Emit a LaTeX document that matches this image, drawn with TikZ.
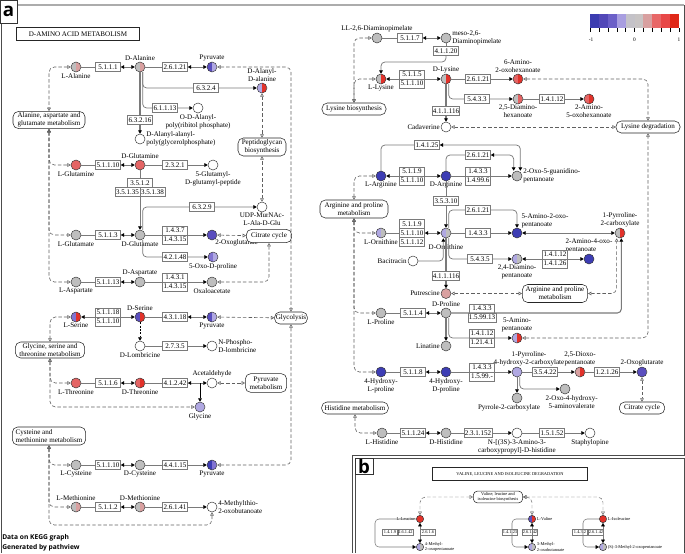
\documentclass[tikz,border=0pt]{standalone}
\usepackage{fontspec}
\setmainfont{Liberation Serif}
\newfontfamily\panelsans{Open Sans}
\usetikzlibrary{arrows.meta}

\definecolor{kgrey}{HTML}{BEBEBE}
\definecolor{kpink}{HTML}{D9A0A0}
\definecolor{kred2}{HTML}{E46464}
\definecolor{kred}{HTML}{E2322A}
\definecolor{kblue}{HTML}{3D3DB4}
\definecolor{kblue2}{HTML}{5A4EBE}
\definecolor{kpurple}{HTML}{8274D2}
\definecolor{klav}{HTML}{B0A8E2}
\definecolor{kline}{HTML}{7A7A7A}
% legend scale
\definecolor{lg0}{HTML}{3C3CB0}
\definecolor{lg1}{HTML}{5248B8}
\definecolor{lg2}{HTML}{6C60C8}
\definecolor{lg3}{HTML}{A89EE0}
\definecolor{lg4}{HTML}{C4C2C8}
\definecolor{lg5}{HTML}{C8C4C4}
\definecolor{lg6}{HTML}{D8A0A0}
\definecolor{lg7}{HTML}{E86868}
\definecolor{lg8}{HTML}{E84848}
\definecolor{lg9}{HTML}{E02818}

\newcommand{\kfont}{\fontsize{5.3}{6}\selectfont}
\newcommand{\kbfont}{\fontsize{3.3}{3.8}\selectfont}

\tikzset{
  cpd/.style 2 args={circle,draw=black!80,line width=0.35pt,minimum size=7.5pt,inner sep=0pt,
    path picture={\fill[#1] (path picture bounding box.south west) rectangle (path picture bounding box.north);
                  \fill[#2] (path picture bounding box.north) rectangle (path picture bounding box.south east);}},
  cpdb/.style 2 args={cpd={#1}{#2},minimum size=5.5pt},
  ecbox/.style={draw=kline,fill=white,minimum width=18.75pt,minimum height=6.75pt,inner sep=0.4pt,font=\kfont},
  ecboxb/.style={draw=kline,fill=white,minimum width=11.5pt,minimum height=4.6pt,inner sep=0.3pt,font=\kbfont},
  mapbox/.style={draw=black!85,fill=white,rounded corners=4pt,align=center,inner sep=1pt,font=\kfont},
  rxn/.style={draw=kline,line width=0.55pt,rounded corners=3pt},
  rxnfwd/.style={rxn,-{Triangle[length=2.6pt,width=2.8pt,color=black]}},
  rxnrev/.style={rxn,{Triangle[length=2.6pt,width=2.8pt,color=black]}-{Triangle[length=2.6pt,width=2.8pt,color=black]}},
  maplink/.style={draw=gray!75!black,line width=0.45pt,dash pattern=on 2.6pt off 1.6pt,rounded corners=4pt,
    {Triangle[open,length=2.6pt,width=2.8pt]}-{Triangle[open,length=2.6pt,width=2.8pt]}},
  every label/.style={font=\kfont,inner sep=0.3pt,align=center},
  panellbl/.style={draw=black!80,line width=0.6pt,fill=white,font=\panelsans\bfseries\fontsize{14}{14}\selectfont,inner sep=0pt}
}

\begin{document}
\begin{tikzpicture}[x=0.75pt,y=-0.75pt,label distance=0.3pt]
\useasboundingbox (0,0) rectangle (685,553);

% frames
\draw[gray!65,line width=1.3pt] (17,5) -- (684,5);
\draw[gray!60!black,line width=0.6pt] (684,5) -- (684,455) -- (352,455) -- (352,553);
\draw[gray!60!black,line width=0.6pt] (1,23) -- (1,553);
\node[panellbl,minimum width=12.75pt,minimum height=17.25pt] (pa) at (8.5,11.5) {a};
\node[font=\panelsans\bfseries\fontsize{5}{7.5}\selectfont,align=left,anchor=south west,inner sep=0pt] (credit) at (2,551) {Data on KEGG graph\\Generated by pathview};

% legend
\foreach \i in {0,...,9}
  \fill[lg\i] (590+\i*8.9,14) rectangle ++(8.9,14);
\foreach \i in {0,...,10}
  \draw[black,line width=0.3pt] (590+\i*8.9,28) -- ++(0,4);
\node[font=\fontsize{4}{4}\selectfont] (legm) at (591,40) {-1};
\node[font=\fontsize{4}{4}\selectfont] (legz) at (634.5,40) {0};
\node[font=\fontsize{4}{4}\selectfont] (legp) at (679,40) {1};

\node[draw=black!85,line width=0.6pt,font=\kfont,minimum width=92pt,minimum height=9pt] (title) at (78,34) {D-AMINO ACID METABOLISM};

% ---- left half: compounds
\node[cpd={kgrey}{kpink},label=below:L-Alanine] (lala) at (76,67) {};
\node[cpd={kgrey}{kpink},label=above:D-Alanine] (dala) at (140,67) {};
\node[cpd={kblue2}{klav},label=above:Pyruvate] (pyra) at (212,67) {};
\node[cpd={klav}{kred},label={above:{D-Alanyl-\\D-alanine}}] (daladala) at (262,88) {};
\node[cpd={white}{white},label={below:{O-D-Alanyl-\\poly(ribitol phosphate)}}] (odala) at (198,108) {};
\node[cpd={white}{white},label={[align=left]right:{D-Alanyl-alanyl-\\poly(glycerolphosphate)}}] (dalapoly) at (140,139) {};
\node[cpd={kred2}{kred2},label=below:L-Glutamine] (lgln) at (76,165) {};
\node[cpd={kred2}{kred2},label=above:D-Glutamine] (dgln) at (140,165) {};
\node[cpd={white}{white},label={below:{5-Glutamyl-\\D-glutamyl-peptide}}] (ggpep) at (213,165) {};
\node[cpd={white}{white},label={below:{UDP-MurNAc-\\L-Ala-D-Glu}}] (udp) at (262,207) {};
\node[cpd={kgrey}{kgrey},label=below:L-Glutamate] (lglu) at (76,235) {};
\node[cpd={kgrey}{kgrey},label=below:D-Glutamate] (dglu) at (140,235) {};
\node[cpd={kblue2}{kblue2},label={[xshift=-1pt]below right:2-Oxoglutarate}] (akga) at (212,235) {};
\node[cpd={kpurple}{klav},label=below:5-Oxo-D-proline] (oxopro) at (213,257) {};
\node[cpd={kgrey}{kgrey},label=below:L-Aspartate] (lasp) at (76,282) {};
\node[cpd={kgrey}{kgrey},label=above:D-Aspartate] (dasp) at (140,282) {};
\node[cpd={kgrey}{kgrey},label=below:Oxaloacetate] (oaa) at (212,282) {};
\node[cpd={kpurple}{kred},label=below:L-Serine] (lser) at (76,317) {};
\node[cpd={kblue2}{kred},label=above:D-Serine] (dser) at (140,317) {};
\node[cpd={kblue2}{klav},label=below:Pyruvate] (pyrb) at (212,317) {};
\node[cpd={white}{white},label=below:D-Lombricine] (dlomb) at (140,346) {};
\node[cpd={white}{white},label={[align=left]right:{N-Phospho-\\D-lombricine}}] (npdl) at (212,346) {};
\node[cpd={kred2}{kred2},label=below:L-Threonine] (lthr) at (76,383) {};
\node[cpd={kred2}{kred},label=below:D-Threonine] (dthr) at (140,383) {};
\node[cpd={white}{white},label=above:Acetaldehyde] (acald) at (212,383) {};
\node[cpd={klav}{klav},label=below:Glycine] (gly) at (200,407) {};
\node[cpd={kgrey}{kgrey},label=below:L-Cysteine] (lcys) at (76,465) {};
\node[cpd={kgrey}{kgrey},label=below:D-Cysteine] (dcys) at (140,465) {};
\node[cpd={kblue}{kpurple},label=below:Pyruvate] (pyrc) at (212,465) {};
\node[cpd={kgrey}{kpink},label=above:L-Methionine] (lmet) at (76,507) {};
\node[cpd={kgrey}{kpink},label=above:D-Methionine] (dmet) at (140,507) {};
\node[cpd={white}{white},label={[align=left]right:{4-Methylthio-\\2-oxobutanoate}}] (mtob) at (212,507) {};

% ---- left half: enzymes
\node[ecbox] (ec5111) at (108,67) {5.1.1.1};
\node[ecbox] (ec26121a) at (175,67) {2.6.1.21};
\node[ecbox] (ec6324) at (206,88) {6.3.2.4};
\node[ecbox] (ec61113) at (165,108) {6.1.1.13};
\node[ecbox] (ec63216) at (140,120) {6.3.2.16};
\node[ecbox] (ec51110a) at (108,165) {5.1.1.10};
\node[ecbox] (ec2321) at (175,165) {2.3.2.1};
\node[ecbox] (ec3512) at (140,183) {3.5.1.2};
\node[ecbox] (ec35135) at (127.5,192) {3.5.1.35};
\node[ecbox] (ec35138) at (152.5,192) {3.5.1.38};
\node[ecbox] (ec5113) at (108,235) {5.1.1.3};
\node[ecbox] (ec6329) at (202,207) {6.3.2.9};
\node[ecbox] (ec1437) at (175,230.5) {1.4.3.7};
\node[ecbox] (ec14315a) at (175,239.5) {1.4.3.15};
\node[ecbox] (ec42148) at (175,257) {4.2.1.48};
\node[ecbox] (ec51113) at (108,282) {5.1.1.13};
\node[ecbox] (ec1431) at (175,277.5) {1.4.3.1};
\node[ecbox] (ec14315b) at (175,286.5) {1.4.3.15};
\node[ecbox] (ec51118) at (108,312.5) {5.1.1.18};
\node[ecbox] (ec51110b) at (108,321.5) {5.1.1.10};
\node[ecbox] (ec43118) at (175,317) {4.3.1.18};
\node[ecbox] (ec2735) at (175,346) {2.7.3.5};
\node[ecbox] (ec5116) at (108,383) {5.1.1.6};
\node[ecbox] (ec41242) at (175,383) {4.1.2.42};
\node[ecbox] (ec51110c) at (108,465) {5.1.1.10};
\node[ecbox] (ec44115) at (175,465) {4.4.1.15};
\node[ecbox] (ec5112) at (108,507) {5.1.1.2};
\node[ecbox] (ec26141) at (175,507) {2.6.1.41};
\coordinate (glybr) at (200,383);
\coordinate (mtobdn) at (212,525);

% ---- left half: maps
\node[mapbox,minimum width=54pt,minimum height=11pt] (alamap) at (49,120) {Alanine, aspartate and\\glutamate metabolism};
\node[mapbox,minimum width=36pt,minimum height=13.5pt] (pgmap) at (262,147) {Peptidoglycan\\biosynthesis};
\node[mapbox,minimum width=34pt,minimum height=10pt] (tcamapa) at (269,236) {Citrate cycle};
\node[mapbox,minimum width=24pt,minimum height=9pt] (glymap) at (291,318) {Glycolysis};
\node[mapbox,minimum width=52pt,minimum height=12pt] (gstmap) at (50,350) {Glycine, serine and\\threonine metabolism};
\node[mapbox,minimum width=31pt,minimum height=14pt] (pyrmap) at (266,383) {Pyruvate\\metabolism};
\node[mapbox,align=left,minimum width=55pt,minimum height=13.5pt] (cysmap) at (49,436) {Cysteine and\\methionine metabolism};

% ---- left half: reactions
\draw[rxnrev] (lala) -- (ec5111) -- (dala);
\draw[rxnrev] (dala) -- (ec26121a) -- (pyra);
\draw[rxnfwd] ([xshift=2pt]dala.south) |- (ec6324) -- (daladala);
\draw[rxnfwd] ([xshift=2pt]dala.south) |- (ec61113) -- (odala);
\draw[rxnfwd,line width=1.1pt] (dala) -- (ec63216) -- (dalapoly);
\draw[rxnrev] (lgln) -- (ec51110a) -- (dgln);
\draw[rxnfwd] (dgln) -- (ec2321) -- (ggpep);
\draw[rxnfwd] (dgln) -- (ec3512) -- (dglu);
\draw[rxnrev] (lglu) -- (ec5113) -- (dglu);
\draw[rxnfwd] ([xshift=2pt]dglu.north) |- (ec6329) -- (udp);
\draw[rxnfwd] (dglu) -- (akga);
\draw[rxnfwd] ([xshift=2pt]dglu.south) |- (ec42148) -- (oxopro);
\draw[rxnrev] (lasp) -- (ec51113) -- (dasp);
\draw[rxnfwd] (dasp) -- (oaa);
\draw[rxnrev] (lser) -- (dser);
\draw[rxnrev] (dser) -- (ec43118) -- (pyrb);
\draw[rxnfwd,draw=black,dash pattern=on 1.5pt off 1pt] (dser) -- (dlomb);
\draw[rxnfwd] (dlomb) -- (ec2735) -- (npdl);
\draw[rxnrev] (lthr) -- (ec5116) -- (dthr);
\draw[rxnrev] (dthr) -- (ec41242) -- (acald);
\draw[rxnfwd,draw=black] (glybr) -- (gly);
\draw[rxnrev] (lcys) -- (ec51110c) -- (dcys);
\draw[rxnfwd] (dcys) -- (ec44115) -- (pyrc);
\draw[rxnrev] (lmet) -- (ec5112) -- (dmet);
\draw[rxnfwd] (dmet) -- (ec26141) -- (mtob);

% ---- left half: map links
\draw[maplink] (lala) -| (alamap);
\draw[maplink] (alamap) |- (lgln);
\draw[maplink] (alamap) |- (lglu);
\draw[maplink] (alamap) |- (lasp);
\draw[maplink] (daladala) -- (pgmap);
\draw[maplink] (udp) -- (pgmap);
\draw[maplink] (pyra) -| (glymap);
\draw[maplink] (pyrb) -- (glymap);
\draw[maplink] (pyrc) -| (glymap);
\draw[maplink] (akga) -- (tcamapa);
\draw[maplink] (oaa) -| (tcamapa);
\draw[maplink] (lser) -| (gstmap);
\draw[maplink] (gstmap) |- (lthr);
\draw[maplink] (gstmap) |- (gly);
\draw[maplink] (acald) -- (pyrmap);
\draw[maplink] (cysmap) |- (lcys);
\draw[maplink] (cysmap) |- (lmet);
\draw[maplink] (mtob) -- (mtobdn) -| (cysmap);

% ---- right half: compounds
\node[cpd={kgrey}{kgrey},label=above:LL-2{,}6-Diaminopimelate] (lldap) at (377,38) {};
\node[cpd={kgrey}{kgrey},label={[align=left]right:{meso-2,6-\\Diaminopimelate}}] (mdap) at (446,38) {};
\node[cpd={kgrey}{kred},label=below:L-Lysine] (llys) at (381,79) {};
\node[cpd={kgrey}{kred},label=above:D-Lysine] (dlys) at (446,79) {};
\node[cpd={kred2}{kred},label={above:{6-Amino-\\2-oxohexanoate}}] (amox) at (518,79) {};
\node[cpd={kgrey}{kred2},label={below:{2,5-Diamino-\\hexanoate}}] (damhex) at (518,99) {};
\node[cpd={kred2}{kred},label={below:{2-Amino-\\5-oxohexanoate}}] (amoxhex) at (589,99) {};
\node[cpd={white}{white},label=left:Cadaverine] (cadav) at (446,127) {};
\node[cpd={kblue}{kblue},label=below:L-Arginine] (larg) at (381,176) {};
\node[cpd={kblue}{kblue},label=below:D-Arginine] (darg) at (446,176) {};
\node[cpd={kgrey}{kgrey},label={[align=left]right:{2-Oxo-5-guanidino-\\pentanoate}}] (oxoguan) at (517,176) {};
\node[cpd={klav}{kgrey},label=below:L-Ornithine] (lorn) at (381,233) {};
\node[cpd={klav}{kgrey},label={[label distance=4pt]below:D-Ornithine}] (dorn) at (446,233) {};
\node[cpd={kblue}{kblue},label={[align=left]above right:{5-Amino-2-oxo-\\pentanoate}}] (aoxpent) at (517,233) {};
\node[cpd={kgrey}{kred},label={above:{1-Pyrroline-\\2-carboxylate}}] (p2c) at (620,233) {};
\node[cpd={klav}{kgrey},label={below:{2,4-Diamino-\\pentanoate}}] (dapent) at (517,259) {};
\node[cpd={kblue}{kblue},label={[align=left]above:{2-Amino-4-oxo-\\pentanoate}}] (aopent) at (589,259) {};
\node[cpd={white}{white},label=left:Bacitracin] (bacit) at (413,261) {};
\node[cpd={kpink}{kpink},label=left:Putrescine] (putr) at (446,293.5) {};
\node[cpd={kgrey}{kgrey},label=below:L-Proline] (lpro) at (381,313) {};
\node[cpd={kgrey}{kgrey},label=above:D-Proline] (dpro) at (446,313) {};
\node[cpd={kgrey}{kgrey},label=left:Linatine] (linat) at (446,346) {};
\node[cpd={klav}{kred},label={above:{5-Amino-\\pentanoate}}] (apent) at (517,338) {};
\node[cpd={kblue}{kblue},label={below:{4-Hydroxy-\\L-proline}}] (hypl) at (381,372) {};
\node[cpd={kblue}{kblue},label={below:{4-Hydroxy-\\D-proline}}] (hypd) at (446,372) {};
\node[cpd={klav}{klav},label={[xshift=9pt]above:{1-Pyrroline-\\4-hydroxy-2-carboxylate}}] (p4hc) at (517,372) {};
\node[cpd={kpink}{kred},label={above:{2,5-Dioxo-\\pentanoate}}] (dioxo) at (580,372) {};
\node[cpd={kblue2}{kblue2},label=above:2-Oxoglutarate] (akgb) at (642,372) {};
\node[cpd={kgrey}{kgrey},label={[xshift=-6pt]below:Pyrrole-2-carboxylate}] (pyr2c) at (517,398) {};
\node[cpd={kgrey}{kgrey},label={[xshift=5pt]below:{2-Oxo-4-hydroxy-\\5-aminovalerate}}] (ohav) at (565,389) {};
\node[cpd={kgrey}{kgrey},label=below:L-Histidine] (lhis) at (382,433) {};
\node[cpd={kgrey}{kgrey},label=below:D-Histidine] (dhis) at (446,433) {};
\node[cpd={white}{white},label={below:{N-[(3S)-3-Amino-3-\\carboxypropyl]-D-histidine}}] (nahis) at (517,433) {};
\node[cpd={white}{white},label=below:Staphylopine] (staph) at (590,433) {};

% ---- right half: enzymes
\node[ecbox] (ec5117) at (410,38) {5.1.1.7};
\node[ecbox] (ec41120) at (446,51) {4.1.1.20};
\node[ecbox] (ec5115) at (412,74.5) {5.1.1.5};
\node[ecbox] (ec51110d) at (412,83.5) {5.1.1.10};
\node[ecbox] (ec26121b) at (478,79) {2.6.1.21};
\node[ecbox] (ec5433) at (477,99) {5.4.3.3};
\node[ecbox] (ec14112a) at (552,99) {1.4.1.12};
\node[ecbox] (ec411116a) at (446,111) {4.1.1.116};
\node[ecbox] (ec14125) at (427,145) {1.4.1.25};
\node[ecbox] (ec5119a) at (412,171.5) {5.1.1.9};
\node[ecbox] (ec51110e) at (412,180.5) {5.1.1.10};
\node[ecbox] (ec26121c) at (478,155) {2.6.1.21};
\node[ecbox] (ec1433a) at (478,171.5) {1.4.3.3};
\node[ecbox] (ec14996) at (478,180.5) {1.4.99.6};
\node[ecbox] (ec35310) at (446,201) {3.5.3.10};
\node[ecbox] (ec5119b) at (412,224) {5.1.1.9};
\node[ecbox] (ec51110f) at (412,233) {5.1.1.10};
\node[ecbox] (ec51112) at (412,242) {5.1.1.12};
\node[ecbox] (ec26121d) at (478,210) {2.6.1.21};
\node[ecbox] (ec1433b) at (478,233) {1.4.3.3};
\node[ecbox] (ec5435) at (480,259) {5.4.3.5};
\node[ecbox] (ec14112b) at (555,254.5) {1.4.1.12};
\node[ecbox] (ec14126) at (555,263.5) {1.4.1.26};
\node[ecbox] (ec411116b) at (446,276) {4.1.1.116};
\node[ecbox] (ec5114) at (413,313) {5.1.1.4};
\node[ecbox] (ec1433c) at (482,308.5) {1.4.3.3};
\node[ecbox] (ec159913) at (482,317.5) {1.5.99.13};
\node[ecbox] (ec14112c) at (482,333.5) {1.4.1.12};
\node[ecbox] (ec12141) at (482,342.5) {1.21.4.1};
\node[ecbox] (ec5118) at (413,372) {5.1.1.8};
\node[ecbox] (ec1433d) at (482,367.5) {1.4.3.3};
\node[ecbox] (ec1599x) at (482,376.5) {1.5.99.-};
\node[ecbox] (ec35422) at (545,372) {3.5.4.22};
\node[ecbox] (ec12126) at (607,372) {1.2.1.26};
\node[ecbox] (ec51124) at (413,433) {5.1.1.24};
\node[ecbox] (ec231152) at (478,433) {2.3.1.152};
\node[ecbox] (ec15152) at (552,433) {1.5.1.52};
\coordinate (lysturn) at (446,62);

% ---- right half: maps
\node[mapbox,minimum width=48pt,minimum height=9pt] (lysbmap) at (354,109) {Lysine biosynthesis};
\node[mapbox,minimum width=48pt,minimum height=9pt] (lysdmap) at (648,127) {Lysine degradation};
\node[mapbox,minimum width=51pt,minimum height=13.5pt] (argmapa) at (354,209) {Arginine and proline\\metabolism};
\node[mapbox,minimum width=49pt,minimum height=13.5pt] (argmapb) at (555,293.5) {Arginine and proline\\metabolism};
\node[mapbox,minimum width=34pt,minimum height=9pt] (tcamapb) at (642,408) {Citrate cycle};
\node[mapbox,minimum width=50pt,minimum height=9pt] (hismap) at (355,408) {Histidine metabolism};

% ---- right half: reactions
\draw[rxnrev] (lldap) -- (ec5117) -- (mdap);
\draw[rxn] (mdap) -- (ec41120);
\draw[rxnfwd] (ec41120) -- (lysturn) -| (llys);
\draw[rxnrev] (llys) -- (dlys);
\draw[rxnfwd] (dlys) -- (ec26121b) -- (amox);
\draw[rxnfwd] ([xshift=2pt]dlys.south) |- (ec5433) -- (damhex);
\draw[rxnfwd] (damhex) -- (ec14112a) -- (amoxhex);
\draw[rxnfwd,line width=1pt] (dlys) -- (ec411116a) -- (cadav);
\draw[rxnrev] (larg) |- (ec14125) -| ([xshift=2.5pt]oxoguan.north);
\draw[rxnrev] (darg) |- (ec26121c) -| ([xshift=-2.5pt]oxoguan.north);
\draw[rxnrev] (larg) -- (darg);
\draw[rxnfwd] (darg) -- (oxoguan);
\draw[rxnfwd] (darg) -- (ec35310) -- (dorn);
\draw[rxnrev] (lorn) -- (ec51110f) -- (dorn);
\draw[rxnfwd] ([xshift=2pt]dorn.north) |- (ec26121d) -| (aoxpent);
\draw[rxnfwd] (dorn) -- (ec1433b) -- (aoxpent);
\draw[rxnrev] (aoxpent) -- (p2c);
\draw[rxnfwd] ([xshift=2pt]dorn.south) |- (ec5435) -- (dapent);
\draw[rxnrev] (dapent) -- (aopent);
\draw[rxnfwd] (bacit) -| ([xshift=-2pt]dorn.south);
\draw[rxnfwd,line width=1pt] (dorn) -- (ec411116b) -- (putr);
\draw[rxnrev] (lpro) -- (ec5114) -- (dpro);
\draw[rxnfwd,line width=0.8pt] (dpro) -| ([xshift=1pt]p2c.south);
\draw[rxnfwd,line width=1pt] (dpro) -- (linat);
\draw[rxnfwd] ([xshift=2pt]dpro.south) |- (apent);
\draw[rxnrev] (hypl) -- (ec5118) -- (hypd);
\draw[rxnfwd] (hypd) -- (p4hc);
\draw[rxnfwd] (p4hc) -- (ec35422) -- (dioxo);
\draw[rxnfwd] (dioxo) -- (ec12126) -- (akgb);
\draw[rxnfwd] (p4hc) -- (pyr2c);
\draw[rxnfwd] ([xshift=2pt]p4hc.south) |- (ohav);
\draw[rxnrev] (lhis) -- (ec51124) -- (dhis);
\draw[rxnfwd] (dhis) -- (ec231152) -- (nahis);
\draw[rxnfwd] (nahis) -- (ec15152) -- (staph);

% ---- right half: map links
\draw[maplink] (lldap) -| (lysbmap);
\draw[maplink] (llys) -| (lysbmap);
\draw[maplink] (amox) -| (lysdmap);
\draw[maplink] (cadav) -- (lysdmap);
\draw[maplink] (apent) -| (lysdmap);
\draw[maplink] (larg) -| (argmapa);
\draw[maplink] (argmapa) |- (lorn);
\draw[maplink] (argmapa) |- (lpro);
\draw[maplink] (argmapa) |- (hypl);
\draw[maplink] (putr) -- (argmapb);
\draw[maplink] (argmapb) -| ([xshift=-2.5pt]p2c.south);
\draw[maplink] (akgb) -- (tcamapb);
\draw[maplink] (lhis) -| (hismap);

% ---- panel b
\draw[gray!60!black,line width=0.6pt] (355,553) -- (355,458) -- (684,458) -- (684,553);
\node[panellbl,minimum width=13.5pt,minimum height=12pt] (pb) at (364,466) {b};
\node[draw=black!85,line width=0.5pt,font=\kbfont,minimum width=116pt,minimum height=6pt] (valtitle) at (510,474) {VALINE, LEUCINE AND ISOLEUCINE DEGRADATION};
\node[mapbox,font=\kbfont,rounded corners=3pt,minimum width=37pt,minimum height=8pt] (valmap) at (498,497) {Valine, leucine and\\isoleucine biosynthesis};
\node[cpdb={kred}{kred},label={[font=\kbfont]left:L-Leucine}] (lleu) at (420,519) {};
\node[cpdb={kblue2}{kred},label={[font=\kbfont]right:L-Valine}] (lval) at (532,519) {};
\node[cpdb={kred}{kred},label={[font=\kbfont]right:L-Isoleucine}] (lile) at (603,519) {};
\node[cpdb={klav}{kgrey},label={[font=\kbfont,align=left]right:{4-Methyl-\\2-oxopentanoate}}] (mop) at (420,547) {};
\node[cpdb={klav}{kgrey},label={[font=\kbfont,align=left]right:{3-Methyl-\\2-oxobutanoate}}] (mob) at (532,547) {};
\node[cpdb={klav}{kgrey},label={[font=\kbfont]right:(S)-3-Methyl-2-oxopentanoate}] (mopent) at (603,547) {};
\node[ecboxb] (ec1419) at (390,532) {1.4.1.9};
\node[ecboxb] (ec26142a) at (405.5,532) {2.6.1.42};
\node[ecboxb] (ec2616) at (428,532) {2.6.1.6};
\node[ecboxb] (ec14123) at (510,532) {1.4.1.23};
\node[ecboxb] (ec26142b) at (530,532) {2.6.1.42};
\node[ecboxb] (ec1432) at (580,532) {1.4.3.2};
\node[ecboxb] (ec26142c) at (596,532) {2.6.1.42};
\coordinate (leubr) at (375,519);
\coordinate (valbr) at (512,519);
\coordinate (ilebr) at (583,519);
\draw[rxnrev,line width=0.4pt] (lleu) -- (mop);
\draw[rxnrev,line width=0.4pt] (lval) -- (mob);
\draw[rxnrev,line width=0.4pt] (lile) -- (mopent);
\draw[rxnfwd,line width=0.4pt] (lleu) -- (leubr) |- (mop);
\draw[rxnfwd,line width=0.4pt] (lval) -- (valbr) |- (mob);
\draw[rxnfwd,line width=0.4pt] (lile) -- (ilebr) |- (mopent);
\draw[maplink,line width=0.35pt] (valmap) -| (lleu);
\draw[maplink,line width=0.35pt] (valmap) -| (lval);
\draw[maplink,line width=0.35pt] (valmap) -| (lile);
\end{tikzpicture}
\end{document}
